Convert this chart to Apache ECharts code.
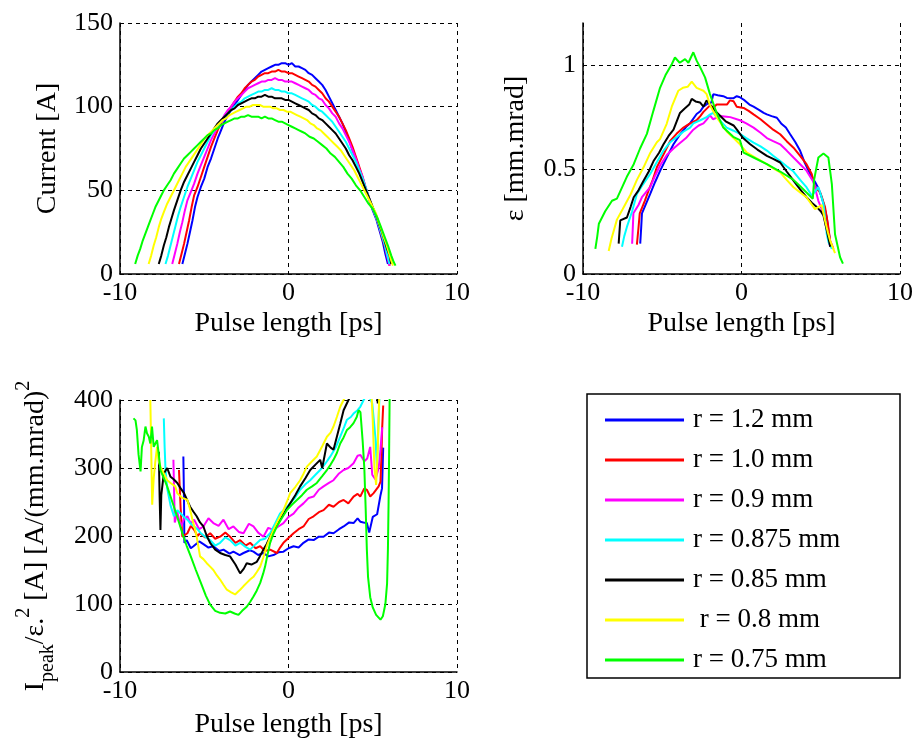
<!DOCTYPE html>
<html>
<head>
<meta charset="utf-8">
<script src="https://cdn.jsdelivr.net/npm/echarts@6/dist/echarts.min.js"></script>
<style>
html,body{margin:0;padding:0;background:#fff;}
#chart{width:916px;height:750px;}
</style>
</head>
<body>
<div id="chart"></div>
<script>
// ---------- legend / series names ----------
const seriesNames = ['r = 1.2 mm','r = 1.0 mm','r = 0.9 mm','r = 0.875 mm','r = 0.85 mm',' r = 0.8 mm','r = 0.75 mm'];
const seriesColors = ['#0000ff','#ff0000','#ff00ff','#00ffff','#000000','#ffff00','#00ff00'];

// ---------- axis ticks ----------
const xTicks = [-10, 0, 10];
const curTicks = [0, 50, 100, 150];
const emitTicks = [0, 0.5, 1];
const brightTicks = [0, 100, 200, 300, 400];

// ---------- Panel 1: Current [A] vs pulse length [ps] ----------
const curBlue = [[-6.3,6],[-6.15,12],[-6.0,18],[-5.85,25],[-5.7,32],[-5.55,40],[-5.4,46],[-5.2,52],[-5.0,57],[-4.8,64],[-4.6,69],[-4.4,75],[-4.2,81],[-4.0,86],[-3.8,91],[-3.6,95],[-3.4,98],[-3.2,101],[-3.0,104],[-2.8,107],[-2.6,110],[-2.4,113],[-2.2,115],[-2.0,117],[-1.8,119],[-1.6,121],[-1.4,122],[-1.2,123],[-1.0,124],[-0.8,125],[-0.6,125],[-0.4,126],[-0.2,126],[0,125],[0.2,126],[0.4,124],[0.6,124],[0.8,123],[1.0,122],[1.2,120],[1.4,119],[1.6,117],[1.8,115],[2.0,113],[2.2,110],[2.4,106],[2.6,102],[2.8,98],[3.0,94],[3.2,90],[3.4,85],[3.6,80],[3.8,74],[4.0,69],[4.2,63],[4.4,57],[4.6,50],[4.8,44],[5.0,38],[5.2,33],[5.4,26],[5.6,19],[5.75,12],[5.9,6]];
const curRed = [[-6.5,6],[-6.35,12],[-6.2,18],[-6.05,25],[-5.9,32],[-5.75,40],[-5.6,47],[-5.4,52],[-5.2,58],[-5.0,64],[-4.8,70],[-4.6,76],[-4.4,81],[-4.2,86],[-4.0,90],[-3.8,94],[-3.6,97],[-3.4,100],[-3.2,103],[-3.0,106],[-2.8,108],[-2.6,111],[-2.4,113],[-2.2,115],[-2.0,116],[-1.8,118],[-1.6,119],[-1.4,120],[-1.2,120],[-1.0,121],[-0.8,121],[-0.6,122],[-0.4,121],[-0.2,121],[0,120],[0.2,120],[0.4,119],[0.6,118],[0.8,117],[1.0,116],[1.2,115],[1.4,113],[1.6,112],[1.8,110],[2.0,108],[2.2,105],[2.4,103],[2.6,100],[2.8,97],[3.0,94],[3.2,90],[3.4,86],[3.6,81],[3.8,76],[4.0,70],[4.2,64],[4.4,58],[4.6,51],[4.8,45],[5.0,39],[5.2,34],[5.4,28],[5.55,22],[5.7,17],[5.85,11],[6.0,5]];
const curMagenta = [[-6.9,6],[-6.75,12],[-6.6,18],[-6.45,25],[-6.3,31],[-6.15,38],[-6.0,44],[-5.8,49],[-5.6,54],[-5.4,60],[-5.2,65],[-5.0,70],[-4.8,75],[-4.6,80],[-4.4,84],[-4.2,88],[-4.0,91],[-3.8,95],[-3.6,98],[-3.4,100],[-3.2,103],[-3.0,105],[-2.8,107],[-2.6,109],[-2.4,111],[-2.2,112],[-2.0,113],[-1.8,114],[-1.6,115],[-1.4,115],[-1.2,116],[-1.0,116],[-0.8,117],[-0.6,116],[-0.4,116],[-0.2,115],[0,115],[0.2,115],[0.4,114],[0.6,113],[0.8,112],[1.0,111],[1.2,110],[1.4,108],[1.6,107],[1.8,105],[2.0,104],[2.2,101],[2.4,99],[2.6,96],[2.8,94],[3.0,90],[3.2,87],[3.4,83],[3.6,79],[3.8,74],[4.0,69],[4.2,63],[4.4,58],[4.6,51],[4.8,45],[5.0,39],[5.2,34],[5.4,28],[5.55,23],[5.7,18],[5.85,11],[6.0,5]];
const curCyan = [[-7.3,6],[-7.15,11],[-7.0,17],[-6.85,23],[-6.7,29],[-6.55,35],[-6.4,40],[-6.2,46],[-6.0,52],[-5.8,57],[-5.6,62],[-5.4,67],[-5.2,71],[-5.0,75],[-4.8,79],[-4.6,83],[-4.4,86],[-4.2,89],[-4.0,91],[-3.8,94],[-3.6,96],[-3.4,98],[-3.2,100],[-3.0,102],[-2.8,103],[-2.6,105],[-2.4,106],[-2.2,107],[-2.0,108],[-1.8,109],[-1.6,109],[-1.4,110],[-1.2,110],[-1.0,111],[-0.8,110],[-0.6,110],[-0.4,109],[-0.2,109],[0,108],[0.2,108],[0.4,107],[0.6,106],[0.8,105],[1.0,104],[1.2,103],[1.4,101],[1.6,100],[1.8,98],[2.0,97],[2.2,95],[2.4,93],[2.6,91],[2.8,88],[3.0,85],[3.2,82],[3.4,79],[3.6,75],[3.8,71],[4.0,67],[4.2,62],[4.4,57],[4.6,51],[4.8,45],[5.0,39],[5.2,34],[5.4,28],[5.55,23],[5.7,18],[5.85,12],[6.0,6]];
const curBlack = [[-7.7,6],[-7.55,11],[-7.4,17],[-7.25,22],[-7.1,28],[-6.95,33],[-6.8,38],[-6.6,44],[-6.4,50],[-6.2,55],[-6.0,59],[-5.8,63],[-5.6,67],[-5.4,71],[-5.2,75],[-5.0,78],[-4.8,81],[-4.6,84],[-4.4,87],[-4.2,90],[-4.0,92],[-3.8,94],[-3.6,96],[-3.4,98],[-3.2,99],[-3.0,101],[-2.8,102],[-2.6,103],[-2.4,104],[-2.2,105],[-2.0,105],[-1.8,106],[-1.6,106],[-1.4,107],[-1.2,106],[-1.0,106],[-0.8,105],[-0.6,105],[-0.4,105],[-0.2,104],[0,104],[0.2,103],[0.4,102],[0.6,101],[0.8,100],[1.0,99],[1.2,98],[1.4,96],[1.6,95],[1.8,93],[2.0,92],[2.2,90],[2.4,88],[2.6,86],[2.8,84],[3.0,81],[3.2,78],[3.4,75],[3.6,71],[3.8,68],[4.0,64],[4.2,60],[4.4,55],[4.6,50],[4.8,45],[5.0,40],[5.2,35],[5.4,29],[5.55,25],[5.7,20],[5.85,15],[6.0,11],[6.1,6]];
const curYellow = [[-8.3,6],[-8.15,11],[-8.0,17],[-7.85,22],[-7.7,28],[-7.55,33],[-7.4,37],[-7.2,42],[-7.0,46],[-6.85,49],[-6.7,52],[-6.5,56],[-6.3,60],[-6.1,64],[-5.9,67],[-5.7,70],[-5.5,73],[-5.3,76],[-5.1,79],[-4.9,82],[-4.7,84],[-4.5,86],[-4.3,88],[-4.1,90],[-3.9,92],[-3.7,93],[-3.5,95],[-3.3,96],[-3.1,97],[-2.9,98],[-2.7,99],[-2.5,100],[-2.3,100],[-2.1,101],[-1.9,101],[-1.7,101],[-1.5,100],[-1.3,100],[-1.1,100],[-0.9,99],[-0.7,99],[-0.5,98],[-0.3,98],[-0.1,97],[0.1,97],[0.3,96],[0.5,95],[0.7,94],[0.9,93],[1.1,92],[1.3,90],[1.5,89],[1.7,87],[1.9,86],[2.1,84],[2.3,82],[2.5,80],[2.7,78],[2.9,76],[3.1,74],[3.3,71],[3.5,68],[3.7,65],[3.9,62],[4.1,58],[4.3,54],[4.5,50],[4.7,46],[4.9,42],[5.05,39],[5.2,36],[5.35,31],[5.5,27],[5.65,22],[5.8,18],[5.95,13],[6.1,8],[6.2,5]];
const curGreen = [[-9.1,6],[-8.95,11],[-8.8,15],[-8.65,20],[-8.5,24],[-8.35,28],[-8.2,32],[-8.05,36],[-7.9,40],[-7.75,43],[-7.6,46],[-7.4,50],[-7.2,53],[-7.0,56],[-6.8,60],[-6.6,63],[-6.4,66],[-6.2,69],[-6.0,71],[-5.8,73],[-5.6,75],[-5.4,77],[-5.2,79],[-5.0,81],[-4.8,83],[-4.6,84],[-4.4,86],[-4.2,87],[-4.0,89],[-3.8,90],[-3.6,91],[-3.4,92],[-3.2,93],[-3.0,93],[-2.8,94],[-2.6,94],[-2.4,95],[-2.2,94],[-2.0,94],[-1.8,94],[-1.6,93],[-1.4,94],[-1.2,93],[-1.0,93],[-0.8,92],[-0.6,91],[-0.4,91],[-0.2,90],[0,89],[0.2,88],[0.4,87],[0.6,86],[0.8,85],[1.0,84],[1.25,82],[1.5,81],[1.75,79],[2.0,77],[2.25,75],[2.5,72],[2.75,70],[3.0,67],[3.25,64],[3.5,60],[3.75,57],[4.0,53],[4.25,50],[4.5,46],[4.75,42],[5.0,39],[5.15,36],[5.3,33],[5.45,29],[5.6,25],[5.75,21],[5.9,17],[6.0,14],[6.1,11],[6.25,7],[6.35,5]];

// ---------- Panel 2: emittance [mm.mrad] vs pulse length [ps] ----------
const emitBlue = [[-6.39,0.145],[-6.33,0.22],[-6.28,0.29],[-6.0,0.34],[-5.76,0.383],[-5.45,0.44],[-5.13,0.494],[-4.7,0.56],[-4.29,0.62],[-3.9,0.665],[-3.45,0.707],[-3.25,0.72],[-2.83,0.765],[-2.6,0.778],[-2.4,0.8],[-2.08,0.818],[-1.9,0.82],[-1.78,0.86],[-1.5,0.855],[-1.15,0.85],[-0.92,0.842],[-0.52,0.84],[-0.3,0.85],[-0.1,0.845],[0.2,0.83],[0.5,0.81],[0.76,0.8],[1.1,0.785],[1.4,0.77],[1.6,0.763],[1.9,0.755],[2.23,0.747],[2.5,0.72],[2.8,0.7],[3.07,0.668],[3.4,0.63],[3.7,0.589],[4.0,0.53],[4.33,0.478],[4.64,0.44],[4.85,0.41],[5.06,0.367],[5.2,0.33],[5.38,0.27],[5.5,0.2],[5.59,0.16]];
const emitRed = [[-6.6,0.14],[-6.5,0.22],[-6.42,0.29],[-6.1,0.35],[-5.86,0.4],[-5.6,0.45],[-5.34,0.51],[-4.9,0.575],[-4.5,0.636],[-4.1,0.67],[-3.66,0.7],[-3.25,0.72],[-2.83,0.735],[-2.6,0.755],[-2.4,0.775],[-2.0,0.805],[-1.75,0.797],[-1.57,0.81],[-1.15,0.81],[-0.92,0.81],[-0.73,0.83],[-0.5,0.826],[-0.3,0.8],[0.13,0.794],[0.45,0.78],[0.76,0.763],[1.2,0.74],[1.6,0.715],[2.0,0.69],[2.44,0.668],[2.85,0.635],[3.28,0.604],[3.7,0.565],[4.1,0.525],[4.43,0.478],[4.64,0.415],[4.96,0.39],[5.1,0.36],[5.27,0.32],[5.45,0.24],[5.59,0.16],[5.8,0.12]];
const emitMagenta = [[-6.9,0.145],[-6.82,0.29],[-6.5,0.33],[-6.28,0.367],[-5.76,0.415],[-5.45,0.47],[-5.13,0.52],[-4.7,0.57],[-4.29,0.6],[-3.9,0.625],[-3.5,0.65],[-3.04,0.69],[-2.7,0.71],[-2.4,0.72],[-2.18,0.739],[-2.0,0.76],[-1.8,0.74],[-1.34,0.755],[-0.94,0.752],[-0.71,0.75],[-0.1,0.735],[0.3,0.72],[0.76,0.7],[1.2,0.675],[1.6,0.65],[2.0,0.635],[2.44,0.62],[2.85,0.59],[3.28,0.557],[3.7,0.525],[4.1,0.494],[4.54,0.44],[4.85,0.35],[5.17,0.29],[5.4,0.2],[5.59,0.13]];
const emitCyan = [[-7.54,0.13],[-7.4,0.18],[-7.23,0.225],[-6.9,0.3],[-6.6,0.383],[-6.2,0.43],[-5.76,0.478],[-5.3,0.54],[-4.92,0.59],[-4.5,0.63],[-4.08,0.655],[-3.67,0.68],[-3.24,0.7],[-3.04,0.72],[-2.6,0.735],[-2.2,0.75],[-1.97,0.763],[-1.78,0.77],[-1.57,0.75],[-1.3,0.73],[-0.94,0.7],[-0.5,0.685],[-0.1,0.67],[0.3,0.65],[0.76,0.628],[1.2,0.61],[1.6,0.59],[2.0,0.565],[2.44,0.54],[2.85,0.515],[3.28,0.49],[3.7,0.45],[4.1,0.415],[4.43,0.375],[4.6,0.39],[4.85,0.415],[5.0,0.38],[5.17,0.335],[5.38,0.19],[5.5,0.15],[5.7,0.12]];
const emitBlack = [[-7.75,0.145],[-7.7,0.2],[-7.65,0.256],[-7.23,0.27],[-7.0,0.32],[-6.8,0.367],[-6.5,0.4],[-6.18,0.446],[-5.85,0.49],[-5.55,0.54],[-5.2,0.58],[-4.92,0.62],[-4.6,0.66],[-4.29,0.69],[-3.88,0.77],[-3.6,0.79],[-3.3,0.81],[-3.14,0.837],[-2.9,0.825],[-2.62,0.82],[-2.4,0.8],[-2.2,0.83],[-1.88,0.8],[-1.76,0.786],[-1.4,0.76],[-1.0,0.73],[-0.5,0.71],[-0.29,0.69],[0.1,0.65],[0.55,0.62],[1.0,0.595],[1.6,0.565],[2.0,0.55],[2.44,0.533],[2.85,0.49],[3.28,0.446],[3.7,0.405],[4.1,0.367],[4.45,0.34],[4.75,0.32],[5.0,0.3],[5.17,0.28],[5.38,0.21],[5.6,0.13]];
const emitYellow = [[-8.38,0.11],[-8.2,0.17],[-7.86,0.26],[-7.5,0.31],[-7.0,0.38],[-6.6,0.45],[-6.18,0.51],[-5.75,0.58],[-5.34,0.63],[-5.14,0.645],[-4.72,0.718],[-4.4,0.8],[-3.99,0.876],[-3.7,0.89],[-3.4,0.895],[-3.14,0.92],[-2.83,0.89],[-2.4,0.876],[-2.2,0.86],[-2.0,0.81],[-1.8,0.78],[-1.57,0.75],[-1.2,0.71],[-0.92,0.68],[-0.5,0.65],[-0.1,0.62],[0.34,0.58],[0.9,0.555],[1.6,0.525],[2.0,0.505],[2.44,0.486],[2.85,0.45],[3.28,0.415],[3.7,0.39],[4.1,0.367],[4.4,0.335],[4.64,0.31],[4.85,0.32],[5.06,0.33],[5.27,0.256],[5.45,0.2],[5.59,0.16],[5.9,0.1]];
const emitGreen = [[-9.22,0.12],[-9.1,0.18],[-9.0,0.24],[-8.6,0.3],[-8.17,0.35],[-7.86,0.36],[-7.5,0.42],[-7.2,0.47],[-6.8,0.525],[-6.4,0.6],[-5.97,0.67],[-5.56,0.78],[-5.14,0.89],[-4.8,0.95],[-4.4,1.003],[-4.2,1.035],[-3.9,1.01],[-3.56,1.027],[-3.35,1.01],[-3.04,1.06],[-2.83,1.02],[-2.62,0.99],[-2.3,0.94],[-1.99,0.86],[-1.57,0.77],[-1.15,0.7],[-0.52,0.656],[-0.1,0.64],[0.13,0.58],[0.76,0.557],[1.6,0.525],[2.44,0.49],[3.28,0.45],[3.7,0.42],[4.1,0.39],[4.5,0.36],[4.58,0.45],[4.85,0.557],[5.17,0.576],[5.48,0.557],[5.7,0.43],[5.9,0.19],[6.22,0.08],[6.4,0.05]];

// ---------- Panel 3: I_peak / eps^2 vs pulse length [ps] ----------
const brBlue = [[-6.24,317],[-6.2,250],[-6.18,190],[-6.04,194],[-5.8,182],[-5.64,185],[-5.3,192],[-5.05,188],[-4.75,183],[-4.46,185],[-4.1,178],[-3.86,180],[-3.5,174],[-3.27,177],[-2.9,172],[-2.67,175],[-2.3,179],[-2.08,177],[-1.8,172],[-1.49,175],[-1.2,170],[-0.89,172],[-0.6,176],[-0.3,177],[0,182],[0.3,185],[0.6,183],[0.89,190],[1.2,195],[1.49,194],[1.8,199],[2.08,199],[2.4,205],[2.67,204],[3.0,210],[3.27,214],[3.6,220],[3.86,219],[4.1,226],[4.26,221],[4.45,220],[4.65,219],[4.79,205],[5.0,228],[5.26,232],[5.46,260],[5.55,270],[5.62,330]];
const brRed = [[-6.5,297],[-6.4,240],[-6.3,199],[-6.0,204],[-5.8,215],[-5.6,209],[-5.4,200],[-5.25,204],[-4.95,198],[-4.65,204],[-4.35,196],[-4.06,199],[-3.75,205],[-3.47,199],[-3.15,190],[-2.87,194],[-2.55,186],[-2.28,190],[-1.95,182],[-1.68,185],[-1.4,178],[-1.09,180],[-0.69,175],[-0.5,183],[-0.3,190],[0,197],[0.3,204],[0.6,210],[0.89,214],[1.2,225],[1.49,229],[1.8,235],[2.08,238],[2.4,246],[2.67,243],[3.0,250],[3.27,253],[3.55,248],[3.86,258],[4.1,262],[4.26,258],[4.5,270],[4.65,268],[4.85,258],[5.05,263],[5.16,265],[5.35,273],[5.46,280],[5.52,322],[5.56,359],[5.62,392]];
const brMagenta = [[-6.83,312],[-6.75,220],[-6.6,235],[-6.4,214],[-6.2,225],[-6.0,229],[-5.8,218],[-5.6,224],[-5.3,210],[-5.05,214],[-4.75,226],[-4.46,219],[-4.15,215],[-3.86,224],[-3.55,210],[-3.27,214],[-2.95,206],[-2.67,204],[-2.35,218],[-2.08,214],[-1.8,205],[-1.49,199],[-1.2,212],[-0.89,209],[-0.6,214],[-0.3,219],[0,228],[0.3,233],[0.6,242],[0.89,248],[1.2,256],[1.49,258],[1.8,268],[2.08,273],[2.4,278],[2.67,282],[3.0,292],[3.27,297],[3.55,300],[3.86,307],[4.1,318],[4.27,319],[4.5,310],[4.67,314],[4.85,331],[4.97,290],[5.16,283],[5.35,300],[5.46,327],[5.56,360]];
const brCyan = [[-7.4,373],[-7.35,330],[-7.3,298],[-7.2,270],[-7.0,245],[-6.8,229],[-6.6,238],[-6.4,233],[-6.2,228],[-6.0,224],[-5.8,218],[-5.6,214],[-5.4,210],[-5.2,204],[-4.9,198],[-4.65,194],[-4.35,186],[-4.06,190],[-3.75,198],[-3.47,194],[-3.15,186],[-2.87,190],[-2.55,184],[-2.28,180],[-1.95,188],[-1.68,194],[-1.4,196],[-1.09,204],[-0.8,218],[-0.5,233],[-0.2,240],[0.1,248],[0.4,257],[0.69,268],[1.0,276],[1.29,282],[1.6,290],[1.88,297],[2.2,307],[2.48,317],[2.8,330],[3.07,346],[3.3,360],[3.47,371],[3.7,375],[3.86,380],[4.1,385],[4.26,390],[4.46,400],[4.7,410],[4.97,395],[5.16,344],[5.25,300],[5.33,360],[5.42,420]];
const brBlack = [[-7.7,324],[-7.65,260],[-7.6,209],[-7.55,260],[-7.4,292],[-7.2,300],[-7.0,287],[-6.8,283],[-6.6,278],[-6.4,270],[-6.2,263],[-6.0,252],[-5.84,243],[-5.65,236],[-5.45,229],[-5.25,220],[-5.05,214],[-4.85,200],[-4.65,190],[-4.35,180],[-4.06,175],[-3.75,172],[-3.47,170],[-3.15,158],[-2.87,145],[-2.65,152],[-2.48,160],[-2.2,158],[-1.88,162],[-1.7,170],[-1.49,180],[-1.3,188],[-1.09,199],[-0.8,212],[-0.5,224],[-0.2,236],[0.1,248],[0.4,260],[0.69,273],[1.0,285],[1.29,297],[1.6,305],[1.88,312],[2.0,300],[2.28,336],[2.5,330],[2.67,327],[2.87,346],[3.07,365],[3.27,385],[3.56,400],[4.0,420],[4.6,430],[5.2,415],[5.3,395],[5.38,430]];
const brYellow = [[-8.2,400],[-8.15,330],[-8.09,246],[-8.0,285],[-7.9,310],[-7.8,331],[-7.7,310],[-7.6,302],[-7.4,292],[-7.2,282],[-7.0,278],[-6.72,273],[-6.6,263],[-6.3,256],[-6.0,253],[-5.85,240],[-5.7,224],[-5.55,210],[-5.45,199],[-5.25,170],[-5.05,166],[-4.85,160],[-4.65,155],[-4.46,150],[-4.25,142],[-4.06,136],[-3.85,128],[-3.66,121],[-3.4,117],[-3.17,114],[-3.0,118],[-2.87,121],[-2.68,126],[-2.48,131],[-2.28,136],[-2.08,140],[-1.88,147],[-1.68,155],[-1.5,168],[-1.29,185],[-1.09,198],[-0.89,209],[-0.6,224],[-0.3,238],[-0.1,250],[0.1,263],[0.4,272],[0.69,282],[0.9,292],[1.09,302],[1.4,310],[1.68,317],[2.0,332],[2.28,346],[2.5,352],[2.67,361],[2.87,375],[3.07,390],[3.27,400],[3.6,420],[4.2,440],[4.9,420],[5.0,370],[5.1,300],[5.2,275],[5.3,330],[5.4,420]];
const brGreen = [[-9.2,373],[-9.08,370],[-9.0,356],[-8.9,320],[-8.78,295],[-8.7,331],[-8.6,340],[-8.49,361],[-8.4,351],[-8.29,346],[-8.2,336],[-8.1,361],[-8.0,331],[-7.9,336],[-7.8,341],[-7.7,320],[-7.6,297],[-7.4,285],[-7.2,273],[-7.0,258],[-6.8,243],[-6.55,224],[-6.3,204],[-6.05,186],[-5.8,170],[-5.5,150],[-5.2,131],[-4.9,112],[-4.65,99],[-4.35,90],[-4.06,87],[-3.75,86],[-3.47,89],[-3.2,86],[-2.97,84],[-2.75,90],[-2.48,96],[-2.28,103],[-2.08,111],[-1.88,120],[-1.68,131],[-1.5,145],[-1.39,155],[-1.25,172],[-1.09,190],[-0.9,203],[-0.69,214],[-0.4,226],[-0.1,238],[0.2,246],[0.5,253],[0.8,260],[1.09,268],[1.4,273],[1.68,278],[2.0,288],[2.28,297],[2.5,305],[2.67,312],[2.87,322],[3.07,336],[3.27,345],[3.47,356],[3.66,360],[3.86,366],[4.05,375],[4.16,385],[4.27,382],[4.4,340],[4.5,300],[4.58,240],[4.65,180],[4.72,140],[4.85,110],[5.0,95],[5.2,84],[5.46,77],[5.6,82],[5.75,100],[5.85,130],[5.9,180],[5.94,250],[5.97,320],[6.0,400],[6.02,440]];

const curData = [curBlue, curRed, curMagenta, curCyan, curBlack, curYellow, curGreen];
const emitData = [emitBlue, emitRed, emitMagenta, emitCyan, emitBlack, emitYellow, emitGreen];
const brData = [brBlue, brRed, brMagenta, brCyan, brBlack, brYellow, brGreen];

// ---------- chart ----------
const FONT = "'Liberation Serif', 'Times New Roman', serif";
const chart = echarts.init(document.getElementById('chart'), null, {renderer: 'canvas'});

function xAxisCfg(gridIndex, nameGap) {
  return {
    type: 'value', gridIndex: gridIndex,
    min: xTicks[0], max: xTicks[xTicks.length - 1], interval: xTicks[1] - xTicks[0],
    name: 'Pulse length [ps]', nameLocation: 'middle', nameGap: nameGap,
    nameTextStyle: {fontFamily: FONT, fontSize: 28, color: '#000'},
    axisLine: {show: true, onZero: false, lineStyle: {color: '#000', width: 1.5}},
    axisTick: {show: false},
    axisLabel: {fontFamily: FONT, fontSize: 26, color: '#000', margin: 6},
    splitLine: {show: true, lineStyle: {color: '#000', type: [4, 4], width: 1}}
  };
}
function yAxisCfg(gridIndex, ticks, max, name, nameGap, extra) {
  const cfg = {
    type: 'value', gridIndex: gridIndex,
    min: ticks[0], max: max, interval: ticks[1] - ticks[0],
    name: name, nameLocation: 'middle', nameGap: nameGap, nameRotate: 90,
    nameTextStyle: {fontFamily: FONT, fontSize: 28, color: '#000'},
    axisLine: {show: true, onZero: false, lineStyle: {color: '#000', width: 1.5}},
    axisTick: {show: false},
    axisLabel: {fontFamily: FONT, fontSize: 26, color: '#000', margin: 7,
      formatter: function (v) { return ticks.indexOf(v) >= 0 ? String(v) : ''; }},
    splitLine: {show: true, lineStyle: {color: '#000', type: [4, 4], width: 1}}
  };
  return Object.assign(cfg, extra || {});
}

const series = [];
[curData, emitData, brData].forEach(function (panel, p) {
  panel.forEach(function (d, i) {
    series.push({
      type: 'line', name: seriesNames[i], xAxisIndex: p, yAxisIndex: p,
      data: d, showSymbol: false, symbol: 'none', clip: true,
      color: seriesColors[i],
      lineStyle: {width: 2, color: seriesColors[i]},
      emphasis: {disabled: true}
    });
  });
});

const y3 = yAxisCfg(2, brTicks(), 400,
  '{m|I}{s|peak}{m|/ε.}{p|2}{m| [A] [A/(mm.mrad)}{p|2}', 62);
function brTicks() { return brightTicks; }
y3.nameTextStyle = {
  fontFamily: FONT, fontSize: 28, color: '#000',
  rich: {
    m: {fontFamily: FONT, fontSize: 28, color: '#000', lineHeight: 44},
    s: {fontFamily: FONT, fontSize: 20, color: '#000', lineHeight: 20, verticalAlign: 'bottom'},
    p: {fontFamily: FONT, fontSize: 20, color: '#000', lineHeight: 20, verticalAlign: 'top'}
  }
};

const y2 = yAxisCfg(1, emitTicks, 1.2, 'ε [mm.mrad]', 53);
y2.splitLine.showMaxLine = false;

const option = {
  animation: false,
  backgroundColor: '#fff',
  grid: [
    {left: 120, top: 23, width: 337, height: 251},
    {left: 583, top: 23, width: 317, height: 251},
    {left: 120, top: 400, width: 337, height: 272}
  ],
  xAxis: [xAxisCfg(0, 36), xAxisCfg(1, 36), xAxisCfg(2, 39)],
  yAxis: [
    yAxisCfg(0, curTicks, 150, 'Current [A]', 58),
    y2,
    y3
  ],
  legend: {
    orient: 'vertical', left: 600, top: 400,
    data: seriesNames, selectedMode: false,
    icon: 'rect', itemWidth: 79, itemHeight: 3, itemGap: 10,
    textStyle: {fontFamily: FONT, fontSize: 27, color: '#000', lineHeight: 30, padding: [0, 0, 0, 4]}
  },
  graphic: [{
    type: 'rect', shape: {x: 587, y: 394, width: 313, height: 284},
    style: {fill: 'rgba(0,0,0,0)', stroke: '#000', lineWidth: 1.5}, z: 0
  }],
  series: series
};
chart.setOption(option);
</script>
</body>
</html>
